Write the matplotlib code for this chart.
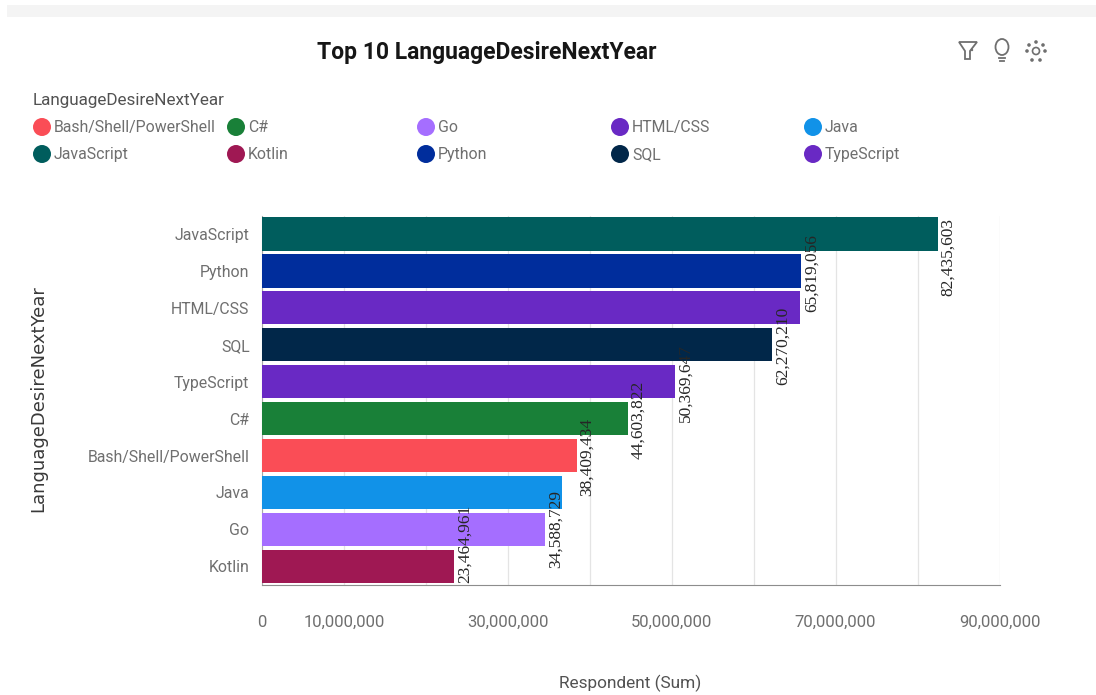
import matplotlib
matplotlib.use("Agg")
from matplotlib import pyplot as plt
from matplotlib.patches import Circle, Rectangle, Polygon, Ellipse

languages = ["JavaScript", "Python", "HTML/CSS", "SQL", "TypeScript", "C#",
             "Bash/Shell/PowerShell", "Java", "Go", "Kotlin"]
respondents = [82435603, 65819056, 65600000, 62270210, 50369647, 44603822,
               38409434, 36600000, 34588729, 23464961]
bar_colors = ["#005d5d", "#002d9c", "#6929c4", "#012749", "#6929c4", "#198038",
              "#fa4d56", "#1192e8", "#a56eff", "#9f1853"]

# these two labels are hidden in the original
hidden_labels = ["HTML/CSS", "Java"]
# labels pushed up/down to stay inside the plot (px)
label_shift = {"JavaScript": 23, "Kotlin": -22, "Python": 2, "SQL": 1, "TypeScript": 1, "C#": 1, "Bash/Shell/PowerShell": 1}

legend_names = ["Bash/Shell/PowerShell", "C#", "Go", "HTML/CSS", "Java",
                "JavaScript", "Kotlin", "Python", "SQL", "TypeScript"]
legend_colors = ["#fa4d56", "#198038", "#a56eff", "#6929c4", "#1192e8",
                 "#005d5d", "#9f1853", "#002d9c", "#012749", "#6929c4"]

x_ticks = [0, 10e6, 20e6, 30e6, 40e6, 50e6, 60e6, 70e6, 80e6, 90e6]
x_tick_labels = ["0", "10,000,000", "", "30,000,000", "", "50,000,000", "", "70,000,000", "", "90,000,000"]

W, H = 1096, 695
plt.rcParams["font.family"] = ["Roboto", "DejaVu Sans"]

fig = plt.figure(figsize=(W / 100, H / 100), dpi=100, facecolor="white")

# main axes, placed in pixels
left, right, top, bottom = 262, 999.5, 215.6, 584.7
ax = fig.add_axes([left / W, 1 - bottom / H, (right - left) / W, (bottom - top) / H])

ys = list(range(len(languages)))
ax.barh(ys, respondents, height=0.9, color=bar_colors, zorder=3)
ax.set_ylim(len(languages) - 0.5, -0.5)
ax.set_xlim(0, 90e6)
ax.set_yticks(ys)
ax.set_yticklabels(languages, fontsize=11.4, color="#6f6f6f")
ax.set_xticks(x_ticks)
ax.set_xticklabels(x_tick_labels, fontsize=12, color="#6f6f6f")
ax.tick_params(axis="both", length=0)
ax.tick_params(axis="x", pad=21.5)
ax.tick_params(axis="y", pad=9)
ax.grid(axis="x", color="#e4e4e4", lw=0.9, zorder=0)
for side in ["top", "right"]:
    ax.spines[side].set_visible(False)
ax.spines["left"].set_color("#a8a8a8")
ax.spines["bottom"].set_color("#8d8d8d")

for y, lang, value in zip(ys, languages, respondents):
    if lang in hidden_labels:
        continue
    ax.annotate(f"{value:,}", (value, y), xytext=(10.5 * 0.72, -label_shift.get(lang, 0) * 0.72),
                textcoords="offset points", rotation=90, ha="center", va="center",
                family="Liberation Serif", fontsize=12.5, color="#262626", zorder=5)

# overlay in pixel coords for the page furniture
page = fig.add_axes([0, 0, 1, 1], facecolor="none")
page.set_xlim(0, W)
page.set_ylim(H, 0)
page.axis("off")

page.add_patch(Rectangle((7, 5), W - 7, 12, color="#f4f4f4", lw=0))

page.text(486.5, 52, "Top 10 LanguageDesireNextYear", fontsize=16.5, fontweight="bold",
          color="#161616", ha="center", va="center")
page.text(33, 100, "LanguageDesireNextYear", fontsize=12.3, color="#525252", va="center")

legend_x = [33, 227, 417, 611, 804]
legend_y = [127, 154]
for i, (name, color) in enumerate(zip(legend_names, legend_colors)):
    lx, ly = legend_x[i % 5], legend_y[i // 5]
    page.add_patch(Circle((lx + 9, ly), 9, color=color, lw=0))
    page.text(lx + 21, ly + 5, name, fontsize=11.4, color="#6f6f6f", va="baseline")

page.text(38, 399, "LanguageDesireNextYear", fontsize=13, family="DejaVu Sans", color="#393939",
          rotation=90, ha="center", va="center")
page.text(630, 683, "Respondent (Sum)", fontsize=12.4, color="#525252", ha="center", va="center")

# toolbar icons: filter, bulb, settings
icon = "#6f6f6f"
page.add_patch(Polygon([(959, 42), (977, 42), (970, 51), (970, 59), (965, 59), (965, 51)],
                       closed=True, fill=False, ec=icon, lw=1.3))
page.add_patch(Circle((972, 50), 1.2, color=icon, lw=0))
page.add_patch(Ellipse((1002, 47), 13, 16, fill=False, ec=icon, lw=1.3))
page.plot([999, 1005], [58, 58], color=icon, lw=1.3)
page.plot([1000, 1004], [61, 61], color=icon, lw=1.3)
page.add_patch(Circle((1036, 51), 3.5, fill=False, ec=icon, lw=1.2))
for dx, dy in [(0, -9), (-7, -6), (7, -6), (-9, 0), (9, 0), (-4, 9), (4, 9)]:
    page.add_patch(Circle((1036 + dx, 51 + dy), 1.8, color=icon, lw=0))

plt.savefig("out.png", dpi=100)
plt.close()
